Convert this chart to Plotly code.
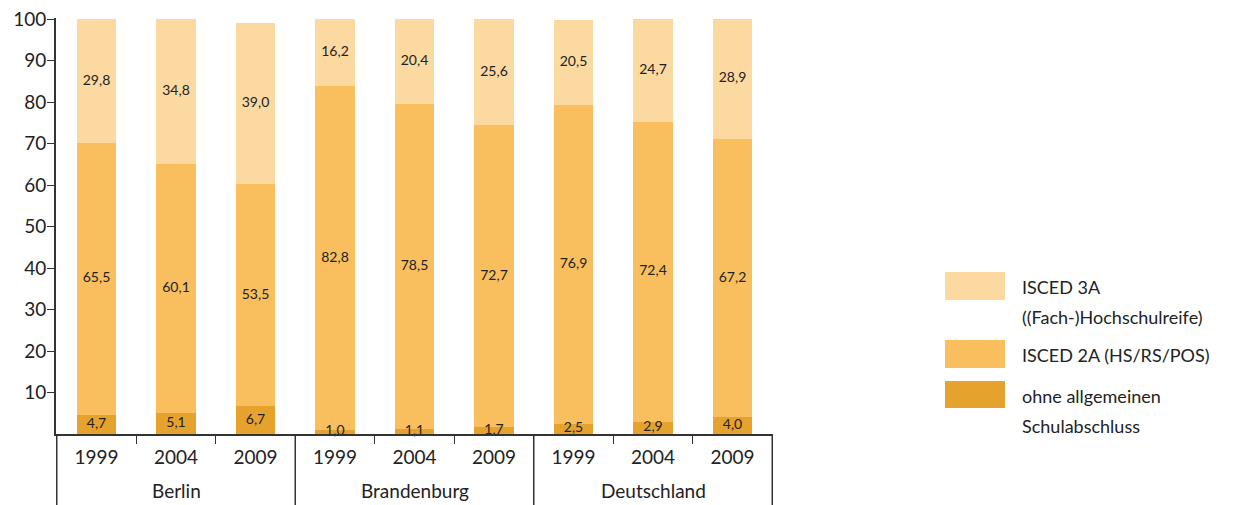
import plotly.graph_objects as go

groups = ["Berlin"] * 3 + ["Brandenburg"] * 3 + ["Deutschland"] * 3
years = ["1999", "2004", "2009"] * 3
ohne = [4.7, 5.1, 6.7, 1.0, 1.1, 1.7, 2.5, 2.9, 4.0]
isced2a = [65.5, 60.1, 53.5, 82.8, 78.5, 72.7, 76.9, 72.4, 67.2]
isced3a = [29.8, 34.8, 39.0, 16.2, 20.4, 25.6, 20.5, 24.7, 28.9]
y_ticks = [10, 20, 30, 40, 50, 60, 70, 80, 90, 100]
group_names = ["Berlin", "Brandenburg", "Deutschland"]

series_names = ["ohne allgemeinen<br>Schulabschluss", "ISCED 2A (HS/RS/POS)",
                "ISCED 3A<br>((Fach-)Hochschulreife)"]
colors = ["#E5A32E", "#F9BF5F", "#FCD9A0"]
series = [ohne, isced2a, isced3a]

FONT = "Lato, 'Open Sans', sans-serif"
cats = [f"{g} {y}" for g, y in zip(groups, years)]

fig = go.Figure()
for name, vals, col in zip(series_names, series, colors):
    fig.add_trace(go.Bar(x=cats, y=vals, name=name, marker=dict(color=col, line=dict(width=0)),
                         showlegend=False, hoverinfo="y"))

# labels at segment midpoints
base = [0.0] * len(ohne)
for vals in series:
    mids = [b + v / 2 for b, v in zip(base, vals)]
    fig.add_trace(go.Scatter(x=cats, y=mids, mode="text",
                             text=[f"{v:.1f}".replace(".", ",") for v in vals],
                             textfont=dict(size=14, color="#222", family=FONT),
                             showlegend=False, hoverinfo="skip", cliponaxis=False))
    base = [b + v for b, v in zip(base, vals)]

# page body adds an 8px offset; compensate
OFF = 8
W, H = 1243, 505
L, T = 56 - OFF, 18 - OFF
B = H - (434 - OFF)
R = W - (773 - OFF)
pw = W - L - R
ph = H - T - B

def px2paper(px, py):
    fx, fy = px - OFF, py - OFF
    return (fx - L) / pw, (H - B - fy) / ph

shapes = []
annotations = []

# group dividers and labels
n_per = 3
for gi, gname in enumerate(group_names):
    annotations.append(dict(xref="x", yref="paper", x=cats[gi * n_per + 1],
                            y=px2paper(0, 490)[1], text=gname, showarrow=False,
                            xanchor="center", yanchor="middle",
                            font=dict(size=19, color="#222", family=FONT)))
for k in range(len(group_names) + 1):
    shapes.append(dict(type="line", xref="x", yref="paper",
                       x0=k * n_per - 0.5, x1=k * n_per - 0.5,
                       y0=0, y1=-0.25, line=dict(color="#333", width=1.5)))

# manual legend
legend_items = [
    (colors[2], 272, 300, ["ISCED 3A", "((Fach-)Hochschulreife)"], 287),
    (colors[1], 340, 368, ["ISCED 2A (HS/RS/POS)"], 355),
    (colors[0], 381, 408, ["ohne allgemeinen", "Schulabschluss"], 396),
]
for col, y0, y1, lines, ty in legend_items:
    x0p, y0p = px2paper(945, y1)
    x1p, y1p = px2paper(1005, y0)
    shapes.append(dict(type="rect", xref="paper", yref="paper", x0=x0p, x1=x1p, y0=y0p, y1=y1p,
                       fillcolor=col, line=dict(width=0), layer="above"))
    for i, line in enumerate(lines):
        tx, typ = px2paper(1020, ty + i * 30)
        annotations.append(dict(xref="paper", yref="paper", x=tx, y=typ, text=line,
                                showarrow=False, xanchor="left", yanchor="middle",
                                font=dict(size=18, color="#222", family=FONT)))

fig.update_layout(
    width=W, height=H,
    margin=dict(l=L, r=R, t=T, b=B, autoexpand=False),
    barmode="stack", bargap=0.5,
    plot_bgcolor="white", paper_bgcolor="white",
    font=dict(family=FONT, color="#222"),
    shapes=shapes, annotations=annotations,
    showlegend=False,
    xaxis=dict(type="category", tickvals=cats, ticktext=years, showline=True,
               linecolor="#333", linewidth=2,
               ticks="outside", tickson="boundaries", ticklen=8, tickcolor="#333",
               ticklabelstandoff=5,
               tickfont=dict(size=19, color="#222"), automargin=False,
               showgrid=False, zeroline=False),
    yaxis=dict(range=[0, 100.3], tickvals=y_ticks, showline=True, linecolor="#333",
               linewidth=2, ticks="outside", ticklen=7, tickcolor="#333", automargin=False,
               ticklabeloverflow="allow", ticklabelstandoff=-3,
               tickfont=dict(size=19, color="#222"), showgrid=False, zeroline=False),
)

fig.write_html("out.html")
